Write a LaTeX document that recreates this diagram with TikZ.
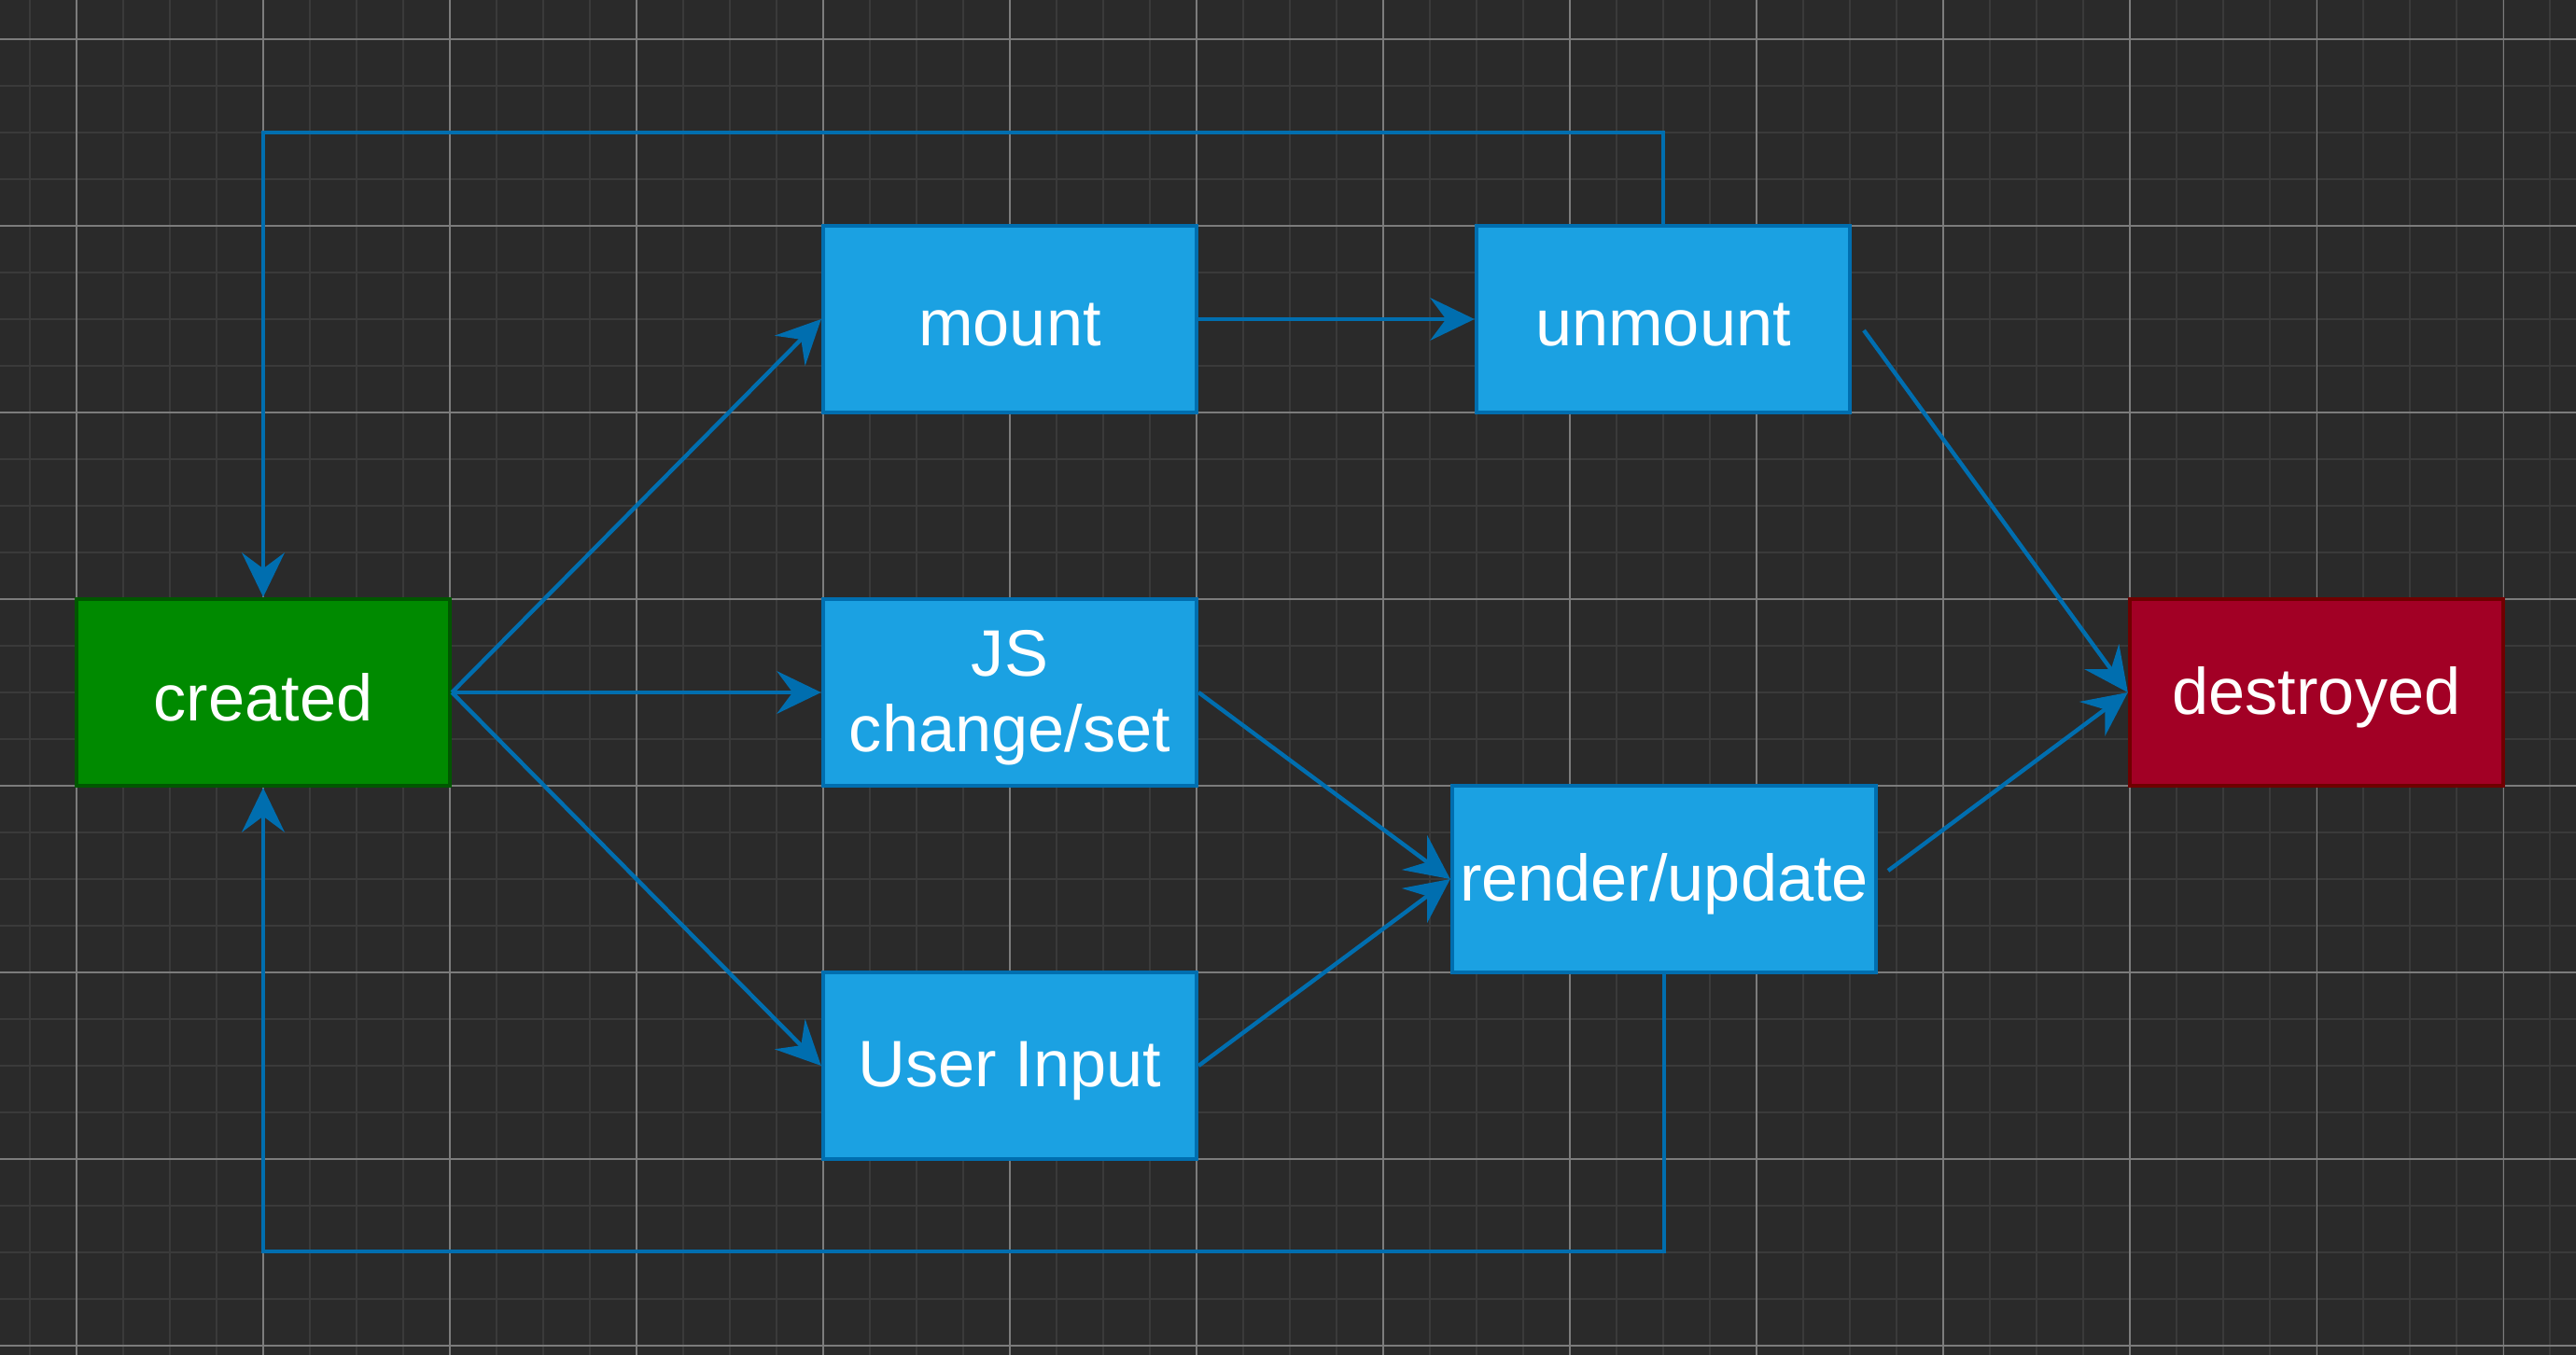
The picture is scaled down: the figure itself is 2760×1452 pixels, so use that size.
\documentclass[tikz,border=0pt]{standalone}
\usepackage{fontspec}
\setmainfont{Liberation Sans}
\usetikzlibrary{arrows.meta}
\definecolor{bg}{HTML}{2A2A2A}
\definecolor{gminor}{HTML}{3A3A3A}
\definecolor{gmajor}{HTML}{7C7C7C}
\definecolor{bfill}{HTML}{1BA1E2}
\definecolor{bline}{HTML}{006EAF}
\definecolor{gfill}{HTML}{008A00}
\definecolor{gline}{HTML}{005700}
\definecolor{rfill}{HTML}{A20025}
\definecolor{rline}{HTML}{6F0000}
\newcommand{\lowtxt}[1]{\raisebox{-1.6pt}[\height][\depth]{#1}}
\tikzset{
  box/.style={rectangle, draw, line width=1.2pt, minimum width=4cm, minimum height=2cm, inner sep=0pt,
    text=white, align=center, font=\fontsize{20}{23}\selectfont},
  bluebox/.style={box, fill=bfill, draw=bline},
  greenbox/.style={box, fill=gfill, draw=gline},
  redbox/.style={box, fill=rfill, draw=rline},
  conn/.style={draw=bline, line width=1.25pt, -{Stealth[length=13.5pt,width=13pt,inset=4.8pt]}},
  minorline/.style={draw=gminor, line width=0.55pt},
  majorline/.style={draw=gmajor, line width=0.3pt}
}
\begin{document}
\begin{tikzpicture}[x=0.01cm,y=-0.01cm]
\fill[bg] (0,0) rectangle (2760,1452);
\useasboundingbox (0,0) rectangle (2760,1452);
% grid
\foreach \i in {0,...,54} {\draw[minorline] ({32+50*\i},0) -- ({32+50*\i},1452);}
\foreach \j in {0,...,28} {\draw[minorline] (0,{42+50*\j}) -- (2760,{42+50*\j});}
\foreach \i in {0,...,13} {\draw[majorline] ({82+200*\i},0) -- ({82+200*\i},1452);}
\foreach \j in {0,...,7} {\draw[majorline] (0,{42+200*\j}) -- (2760,{42+200*\j});}
% nodes
\node[greenbox] (created) at (282,742) {\lowtxt{created}};
\node[bluebox] (mount) at (1082,342) {\lowtxt{mount}};
\node[bluebox] (unmount) at (1782,342) {\lowtxt{unmount}};
\node[bluebox] (js) at (1082,742) {\lowtxt{JS}\\\lowtxt{change/set}};
\node[bluebox] (ui) at (1082,1142) {\lowtxt{User Input}};
\node[bluebox, minimum width=4.54cm] (render) at (1783,942) {\lowtxt{render/update}};
\node[redbox] (destroyed) at (2482,742) {\lowtxt{destroyed}};
% helper coordinates
\coordinate (ustart) at (1997,354);
\coordinate (rstart) at (2023,933);
\coordinate (topl) at (282,142);
\coordinate (topr) at (1782,142);
\coordinate (botl) at (282,1341);
\coordinate (botr) at (1783,1341);
% connectors
\draw[conn] (created.east) -- (mount.west);
\draw[conn] (created.east) -- (js.west);
\draw[conn] (created.east) -- (ui.west);
\draw[conn] (mount.east) -- (unmount.west);
\draw[conn] (ustart) -- (destroyed.west);
\draw[conn] (js.east) -- (render.west);
\draw[conn] (ui.east) -- (render.west);
\draw[conn] (rstart) -- (destroyed.west);
\draw[conn] (unmount.north) -- (topr) -- (topl) -- (created.north);
\draw[conn] (render.south) -- (botr) -- (botl) -- (created.south);
\end{tikzpicture}
\end{document}
